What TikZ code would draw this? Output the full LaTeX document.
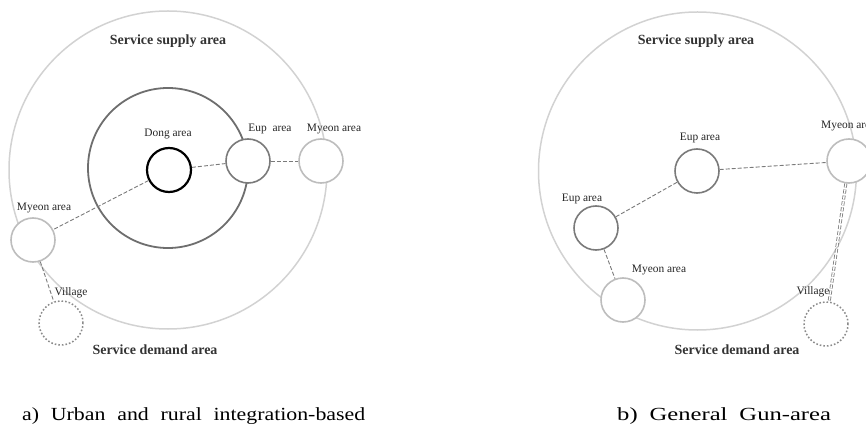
\documentclass[tikz,border=0pt]{standalone}
\usepackage{graphicx}
\usepackage{fontspec}
\setmainfont{Liberation Serif}
\definecolor{outergray}{HTML}{D2D2D2}
\definecolor{midgray}{HTML}{6E6E6E}
\definecolor{eupgray}{HTML}{7A7A7A}
\definecolor{myeongray}{HTML}{BDBDBD}
\definecolor{villgray}{HTML}{8A8A8A}
\definecolor{linkgray}{HTML}{7A7A7A}
\newcommand{\capwide}[2]{\scalebox{#1}[1]{#2}}
\begin{document}
\begin{tikzpicture}[x=1pt,y=-1pt,
  area/.style={circle, minimum size=44pt, inner sep=0pt, line width=1.6pt, fill=white},
  dongc/.style={area, draw=black, line width=2.2pt},
  eupc/.style={area, draw=eupgray},
  myeonc/.style={area, draw=myeongray},
  villc/.style={area, draw=villgray, dotted, line width=1.5pt},
  ring/.style={circle, inner sep=0pt},
  link/.style={draw=linkgray, line width=0.9pt, dash pattern=on 4pt off 2pt},
  lbl/.style={font=\fontsize{11.4}{12}\selectfont, text=black!85, inner sep=0pt},
  svc/.style={font=\fontsize{14}{15}\selectfont\bfseries, text=black!80, inner sep=0pt},
  captxt/.style={font=\fontsize{18.5}{20}\selectfont, inner sep=0pt}]
\useasboundingbox (0,0) rectangle (866,446);
\clip (0,0) rectangle (866,446);

% ---------- panel a ----------
\node[ring, draw=outergray, line width=1.5pt, minimum size=318pt] (outA) at (168,170) {};
\node[ring, draw=midgray, line width=1.8pt, minimum size=160pt] (midA) at (168,168) {};
\node[dongc] (dongA) at (169,170) {};
\node[eupc] (eupA) at (248,161) {};
\node[myeonc] (myeonAr) at (321,161) {};
\node[myeonc] (myeonAl) at (33,240) {};
\node[villc] (villA) at (61,323) {};

\draw[link] (dongA) -- (eupA);
\draw[link] (eupA) -- (myeonAr);
\draw[link] (dongA) -- (myeonAl);
\draw[link] (myeonAl) -- (villA);

\node[svc] (supA) at (168,41) {Service supply area};
\node[lbl] (dongAl) at (168,134) {Dong area};
\node[lbl] (eupAl) at (270,129) {Eup\ \ area};
\node[lbl] (myeonArl) at (334,129) {Myeon area};
\node[lbl] (myeonAll) at (44,208) {Myeon area};
\node[lbl] (villAl) at (71,293) {Village};
\node[svc] (demA) at (155,350) {Service demand area};
\node[captxt, anchor=west] (capA) at (22,416) {\capwide{1.18}{a)\hspace{10pt}Urban\hspace{10pt}and\hspace{10pt}rural\hspace{10pt}integration-based}};

% ---------- panel b ----------
\node[ring, draw=outergray, line width=1.5pt, minimum size=318pt] (outB) at (697.5,171) {};
\node[eupc] (eupBc) at (697,171) {};
\node[eupc] (eupBl) at (596,228) {};
\node[myeonc] (myeonBr) at (849,161) {};
\node[myeonc] (myeonBb) at (623,300) {};
\node[villc] (villB) at (826,324) {};

\draw[link] (eupBl) -- (eupBc);
\draw[link] (eupBc) -- (myeonBr);
\draw[link] (eupBl) -- (myeonBb);
\draw[link, double=white, double distance=1.4pt, line width=0.8pt] (myeonBr) -- (villB);

\node[svc] (supB) at (696,41) {Service supply area};
\node[lbl] (eupBcl) at (700,138) {Eup area};
\node[lbl] (eupBll) at (582,199) {Eup area};
\node[lbl, anchor=west] (myeonBrl) at (821,126) {Myeon area};
\node[lbl] (myeonBbl) at (659,270) {Myeon area};
\node[lbl] (villBl) at (813,292) {Village};
\node[svc] (demB) at (737,350) {Service demand area};
\node[captxt, anchor=west] (capB) at (617,416) {\capwide{1.33}{b)\hspace{9pt}General\hspace{9pt}Gun-area}};
\end{tikzpicture}
\end{document}
